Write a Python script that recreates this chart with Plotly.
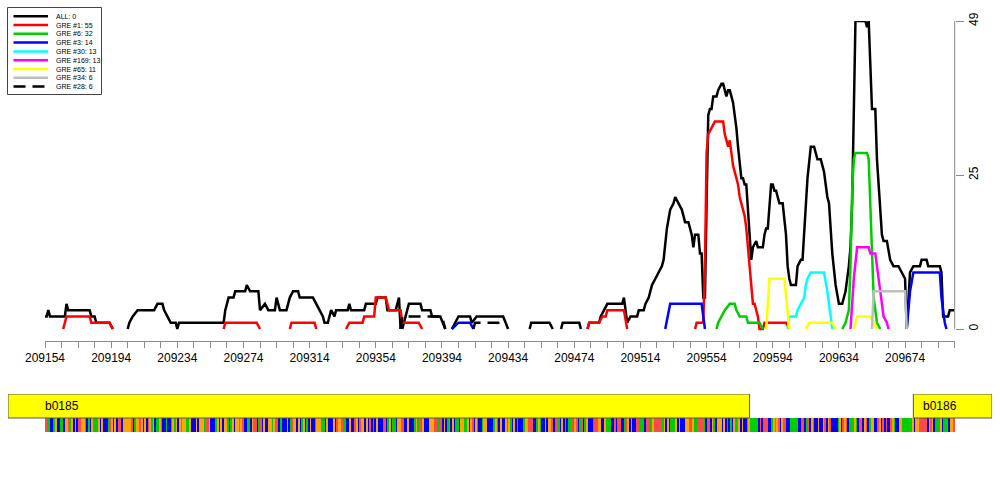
import plotly.graph_objects as go

# ---------------- data ----------------
series_labels = ["ALL: 0", "GRE #1: 55", "GRE #6: 32", "GRE #3: 14", "GRE #30: 13",
                 "GRE #169: 13", "GRE #65: 11", "GRE #34: 6", "GRE #28: 6"]

all_x = [209154, 209155, 209156, 209157, 209166, 209167, 209168, 209181, 209182, 209184, 209185, 209193, 209195, None,
         209204, 209205, 209207, 209210, 209220, 209222, 209225, 209226, 209228, 209230, 209233, 209234, 209235, 209262,
         209263, 209265, 209268, 209269, 209275, 209276, 209278, 209283, 209284, 209287, 209289, 209293, 209294, 209296,
         209300, 209302, 209304, 209307, 209308, 209316, 209318, 209320, 209322, 209323, 209325, 209327, 209329, 209330,
         209337, 209338, 209339, 209347, 209348, 209354, 209355, 209360, 209361, 209366, 209368, 209369, None,
         209370, 209371, 209374, 209381, 209382, 209387, 209388, 209393, 209396, None,
         209400, 209404, 209411, 209412, 209415, 209431, 209434, None,
         209447, 209448, 209459, 209461, None,
         209466, 209467, 209477, 209478, None,
         209482, 209483, 209489, 209490, 209492, 209494, 209503, 209504, 209506, 209508, 209512, 209513, 209516, 209517,
         209519, 209521, 209523, 209525, 209527, 209528, 209530, 209532, 209534, 209535, 209537, 209539, 209541, 209543,
         209545, 209546, 209547, 209549, 209550, 209551, 209552, 209553, 209554, 209555, 209556, 209557, 209558, 209560,
         209561, 209563, 209564, 209565, 209566, 209567, 209568, 209569, 209570, 209571, 209572, 209573, 209574, 209575,
         209576, 209577, 209578, 209579, 209580, 209581, 209582, 209584, 209585, 209588, 209589, 209590, 209591, 209592,
         209593, 209594, 209595, 209596, 209597, 209598, 209600, 209601, 209602, 209603, 209604, 209605, 209608, 209609,
         209611, 209612, 209613, 209615, 209617, 209619, 209621, 209623, 209625, 209627, 209628, 209630, 209632, 209634,
         209636, 209638, 209640, 209641, 209642, 209643, 209644, 209650, 209651, 209652, 209653, 209654, 209656, 209657,
         209658, 209659, 209660, 209661, 209663, 209665, 209667, 209670, 209672, 209674, 209675, 209676, 209677, 209679,
         209683, 209684, 209687, 209688, 209695, 209696, 209697, 209700, 209701, 209704]
all_y = [2, 2, 3, 2, 2, 4, 3, 3, 2, 2, 1, 1, 0, None,
         0, 1, 2, 3, 3, 4, 4, 3, 2, 1, 1, 0, 1, 1,
         3, 5, 5, 6, 6, 7, 6, 6, 3, 4, 3, 3, 5, 3,
         3, 5, 6, 6, 5, 5, 4, 3, 2, 1, 1, 3, 2, 3,
         3, 4, 3, 3, 4, 4, 5, 5, 3, 3, 5, 0, None,
         0, 1, 4, 4, 3, 3, 2, 2, 0, None,
         0, 2, 2, 1, 2, 2, 0, None,
         0, 1, 1, 0, None,
         0, 1, 1, 0, None,
         0, 1, 1, 2, 3, 4, 4, 5, 1, 2, 2, 3, 3, 4,
         5, 7, 8, 9, 10, 11, 16, 19, 20, 21, 20, 19, 17, 17,
         15, 13, 15, 15, 12, 12, 5, 5, 20, 34, 35, 35, 37, 37,
         38, 39, 39, 38, 37, 38, 38, 37, 36, 34, 32, 29, 26, 24,
         24, 23, 23, 19, 15, 11, 13, 14, 13, 13, 15, 16, 16, 20,
         23, 23, 22, 22, 21, 20, 20, 17, 15, 10, 8, 7, 7, 10,
         11, 11, 16, 24, 29, 29, 27, 27, 25, 21, 20, 12, 7, 4,
         4, 6, 10, 13, 20, 35, 49, 49, 48, 49, 43, 35, 35, 27,
         23, 19, 15, 14, 14, 11, 10, 10, 9, 8, 0, 5, 9, 10,
         10, 11, 11, 10, 10, 9, 2, 2, 3, 3]

gre1_x = [209165, 209167, 209181, 209182, 209193, 209195, None,
          209262, 209263, 209282, 209284, None,
          209302, 209303, 209317, 209318, None,
          209336, 209338, 209346, 209347, 209353, 209354, 209360, 209362, 209369, 209370, 209380, 209382, None,
          209482, 209483, 209489, 209491, 209493, 209494, 209504, 209506, None,
          209547, 209548, 209552, 209553, 209554, 209555, 209557, 209559, 209564, 209565, 209566, 209567, 209568,
          209569, 209570, 209571, 209572, 209573, 209574, 209575, 209576, 209577, 209578, 209579, 209580, 209581,
          209582, 209583, 209584, 209585, 209586, 209588, 209589, 209602, 209604]
gre1_y = [0, 2, 2, 1, 1, 0, None,
          0, 1, 1, 0, None,
          0, 1, 1, 0, None,
          0, 1, 1, 2, 2, 5, 5, 3, 3, 1, 1, 0, None,
          0, 1, 1, 2, 2, 3, 3, 0, None,
          0, 1, 1, 10, 28, 31, 32, 33, 33, 31, 30, 29, 30,
          28, 26, 25, 24, 23, 21, 20, 19, 18, 16, 13, 9, 6,
          4, 4, 3, 2, 0, 0, 1, 1, 0]

gre6_x = [209560, 209561, 209563, 209565, 209568, 209571, 209572, 209574, 209578, 209579, 209586, 209588, None,
          209636, 209638, 209640, 209641, 209642, 209643, 209644, 209651, 209652, 209653, 209654, 209655, 209656,
          209657, 209659]
gre6_y = [0, 1, 2, 3, 4, 4, 3, 2, 2, 1, 1, 0, None,
          0, 1, 3, 10, 22, 27, 28, 28, 27, 20, 12, 5, 3,
          1, 0]

gre3_x = [209400, 209404, 209411, 209413, None,
          209529, 209532, 209551, 209553, None,
          209675, 209677, 209679, 209695, 209696, 209698, 209699]
gre3_y = [0, 1, 1, 0, None,
          0, 4, 4, 0, None,
          0, 6, 9, 9, 5, 1, 0]

gre30_x = [209603, 209604, 209608, 209609, 209611, 209613, 209614, 209615, 209617, 209625, 209627, 209629, 209630]
gre30_y = [0, 2, 2, 3, 4, 5, 7, 8, 9, 9, 6, 2, 0]

gre169_x = [209641, 209643, 209645, 209652, 209653, 209656, 209657, 209659, 209661, 209663, 209664]
gre169_y = [0, 8, 13, 13, 12, 12, 10, 6, 2, 1, 0]

gre65_x = [209590, 209592, 209601, 209604, None,
           209614, 209616, 209630, 209632, None,
           209643, 209645, 209653, 209655, 209657]
gre65_y = [0, 8, 8, 0, None,
           0, 1, 1, 0, None,
           0, 2, 2, 1, 0]

gre34_x = [209654, 209655, 209674, 209675]
gre34_y = [0, 6, 6, 0]

gre28_x = [209369, 209370, 209394, 209396, None,
           209413, 209414, 209428, 209430]
gre28_y = [0, 2, 2, 0, None,
           0, 1, 1, 0]

# x axis: window and tick labels
x_start = 209154
x_end = 209704
tick_step = 10
label_step = 40

# y axis ticks
y_tickvals = [0, 24.5, 49]
y_ticktext = ["0", "25", "49"]

# genes
gene_names = ["b0185", "b0186"]
gene_starts = [208621, 209679]
gene_ends = [209580, 210823]

# DNA sequence shown under the plot (209154 .. 209703)
seq_lines = [
    "TAACCAGCCAACGGTAGCGCTTGGTCACGAAAGCGCCCATGCGCTTCGGG",
    "GGTCAGGTGCGCTGAGCAAGTCCACCAGAGCGTGGAAGCCCGCGGGATTG",
    "CCCAGCGCGGACAGCGGTGTCCAACGTTCATCGCCGGAGTTCACCCGCAT",
    "GGCGCAGCACGCCAGGGAACGCCCGCTGGTAACCGCCTGCTGGCGCTCAC",
    "GCCCATCAGCAACGGTTCCGCCCAGATAGCCCGGGTTAATCGCATCGCAA",
    "CGGAAGCGTCGACCAGGCCCCAGACGCCGAGACGCTCCCAGGTTTCCAGA",
    "CCGCGGTCATACGCTCAATAGTCATCAGCCCATTGGCCGAAACCTCTTCC",
    "ATGCGCCTTAAACTTATGTTTTTAGCGCAAAGCGCCCGGTTGAATTTTAC",
    "TTCGACGGGCGCACACGATGCGCCTGAAAAACTCTTTCCAGTGTCGTTCC",
    "AAAAACCTACATCGTCCGCCGTCGTCCCCAGCTGTCAAAGACTTCGTCAG",
    "GCCTGCTCTCCTGACCGGAAAATAGCGGTTTTTCGTGCAAAGCAATCGGT",
]

# ---------------- styles ----------------
line_colors = ["#000000", "#FF0000", "#00CD00", "#0000FF", "#00FFFF",
               "#FF00FF", "#FFFF00", "#BEBEBE", "#000000"]
line_dashes = ["solid"] * 8 + ["12px,7px"]
base_colors = {"A": "#00CD00", "C": "#0000FF", "G": "#FFA500", "T": "#FF4A4A"}
axis_grey = "#8A8A8A"
FONT = "Liberation Sans, Arial, Helvetica, sans-serif"

W, H = 1000, 500
# pixel layout
px_left, px_right = 45, 954.7        # x axis of the main panel
px_y0, px_ytop, px_axis = 329, 21, 341  # y=0, y=max, x-axis line
px_gene_top, px_gene_bot, px_seq_bot = 394, 418, 432
px_track_left, px_track_right = 8, 992

px_per_bp = (px_right - px_left) / (x_end - x_start)
y_max = y_tickvals[-1]
px_per_unit = (px_y0 - px_ytop) / y_max
y_low = -(px_axis - px_y0) / px_per_unit

xs = [all_x, gre1_x, gre6_x, gre3_x, gre30_x, gre169_x, gre65_x, gre34_x, gre28_x]
ys = [all_y, gre1_y, gre6_y, gre3_y, gre30_y, gre169_y, gre65_y, gre34_y, gre28_y]

fig = go.Figure()
for xv, yv, c, d, name in zip(xs, ys, line_colors, line_dashes, series_labels):
    fig.add_trace(go.Scatter(x=xv, y=yv, mode="lines", name=name,
                             line=dict(color=c, width=2.5, dash=d),
                             connectgaps=False, hoverinfo="skip", showlegend=False,
                             xaxis="x", yaxis="y"))

# sequence strip
seq = "".join(seq_lines)
codes = {"A": 0, "C": 1, "G": 2, "T": 3}
z = [[codes[b] for b in seq]]
x_edges = [x_start + i for i in range(len(seq) + 1)]
cA, cC, cG, cT = base_colors["A"], base_colors["C"], base_colors["G"], base_colors["T"]
cscale = [[0, cA], [1 / 6, cA], [1 / 6, cC], [0.5, cC], [0.5, cG], [5 / 6, cG], [5 / 6, cT], [1, cT]]
track_h = px_seq_bot - px_gene_top
seq_h = px_seq_bot - px_gene_bot
fig.add_trace(go.Heatmap(z=z, x=x_edges, y=[0, seq_h], zmin=0, zmax=3, colorscale=cscale,
                         showscale=False, hoverinfo="skip", xaxis="x2", yaxis="y2", zsmooth=False))

x2_left = x_start - (px_left - px_track_left) / px_per_bp
x2_right = x_end + (px_track_right - px_right) / px_per_bp

shapes = []
annotations = []
for name, s, e in zip(gene_names, gene_starts, gene_ends):
    x0 = max(s, x2_left)
    x1 = min(e, x2_right)
    shapes.append(dict(type="rect", xref="x2", yref="y2", x0=x0, x1=x1, y0=seq_h, y1=track_h,
                       fillcolor="#FFFF00", line=dict(color="#555555", width=1), layer="above"))
    annotations.append(dict(x=max(s + 4.5, x_start - 1), y=(seq_h + track_h) / 2, xref="x2", yref="y2",
                            text=name, showarrow=False, xanchor="left", yanchor="middle",
                            font=dict(family=FONT, size=12, color="#000000")))

# right y axis line (only over data range)
shapes.append(dict(type="line", xref="paper", yref="y", x0=px_right / W, x1=px_right / W,
                   y0=0, y1=y_max, line=dict(color=axis_grey, width=1)))

# legend box
lg_l, lg_r, lg_t, lg_b = 7.5, 101.5, 7.5, 94.5
shapes.append(dict(type="rect", xref="paper", yref="paper", x0=lg_l / W, x1=lg_r / W,
                   y0=1 - lg_b / H, y1=1 - lg_t / H, line=dict(color="#444444", width=1),
                   fillcolor="rgba(255,255,255,1)", layer="above"))
for i, (name, c, d) in enumerate(zip(series_labels, line_colors, line_dashes)):
    yy = 1 - (16.2 + i * 8.8) / H
    shapes.append(dict(type="line", xref="paper", yref="paper", x0=13.5 / W, x1=48 / W,
                       y0=yy, y1=yy, line=dict(color=c, width=2.5, dash=d), layer="above"))
    annotations.append(dict(x=53.5 / W, y=yy, xref="paper", yref="paper", text=name,
                            showarrow=False, xanchor="left", yanchor="middle",
                            font=dict(family=FONT, size=7, color="#000000")))

tickvals = list(range(x_start, x_end + 1, tick_step))
ticktext = [str(v) if (v - x_start) % label_step == 0 else "" for v in tickvals]

fig.update_layout(
    width=W, height=H, margin=dict(l=0, r=0, t=0, b=0, autoexpand=False),
    paper_bgcolor="white", plot_bgcolor="rgba(0,0,0,0)",
    font=dict(family=FONT, size=12, color="black"),
    showlegend=False,
    xaxis=dict(domain=[px_left / W, px_right / W], range=[x_start, x_end], anchor="y",
               showline=True, linecolor=axis_grey, linewidth=1, ticks="outside", ticklen=6,
               tickcolor=axis_grey, tickwidth=1, tickvals=tickvals, ticktext=ticktext,
               showgrid=False, zeroline=False, automargin=False,
               tickfont=dict(family=FONT, size=12, color="black")),
    yaxis=dict(domain=[1 - px_axis / H, 1 - px_ytop / H], range=[y_low, y_max], anchor="x",
               side="right", showline=False, ticks="outside", ticklen=8, tickcolor=axis_grey,
               tickvals=y_tickvals, ticktext=y_ticktext, tickangle=-90, showgrid=False,
               zeroline=False, automargin=False,
               tickfont=dict(family=FONT, size=12, color="black")),
    xaxis2=dict(domain=[px_track_left / W, px_track_right / W], range=[x2_left, x2_right],
                anchor="y2", visible=False, automargin=False),
    yaxis2=dict(domain=[1 - px_seq_bot / H, 1 - px_gene_top / H], range=[0, track_h],
                anchor="x2", visible=False, automargin=False),
    shapes=shapes, annotations=annotations,
)

fig.write_html("out.html", config={"displayModeBar": False},
               post_script="document.body.style.margin='0';")
